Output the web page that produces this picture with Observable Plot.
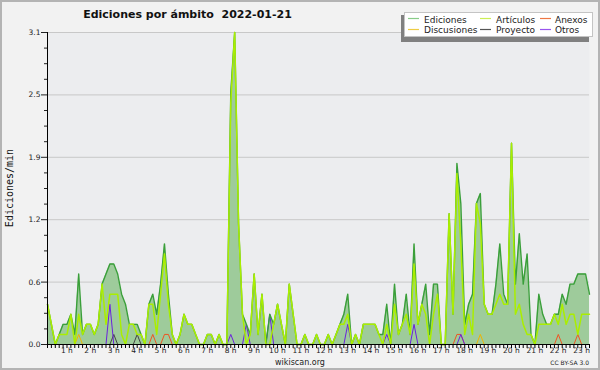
<!DOCTYPE html>
<html><head><meta charset="utf-8">
<script src="https://cdn.jsdelivr.net/npm/d3@7"></script>
<script src="https://cdn.jsdelivr.net/npm/@observablehq/plot@0.6"></script>
<style>
html,body{margin:0;padding:0;background:#f2f2f2;}
#chart{position:relative;width:600px;height:370px;background:#f2f2f2;overflow:hidden;font-family:"DejaVu Sans",sans-serif;}
#chart svg{position:absolute;left:0;top:0;}
#border{position:absolute;left:0;top:0;width:600px;height:370px;box-sizing:border-box;border:2px solid #b4b4b4;pointer-events:none;}
</style>
</head><body>
<div id="chart"></div>
<script>
// ---- data (10-minute steps from 00:00, edits per minute) ----
const ediciones = [
0.4,0.2,0,0.1,0.2,0.2,0.3,0.1,0.7,0.1,
0.2,0.2,0.1,0.2,0.6,0.7,0.8,0.8,0.7,0.5,
0.4,0.2,0.2,0.2,0.1,0,0.4,0.5,0.3,0.6,
1.0,0.5,0.1,0,0.1,0.3,0.2,0.2,0.1,0,
0,0.1,0.1,0,0.1,0,0,2.5,3.1,1.2,
0.3,0.2,0.1,0.7,0.1,0.5,0,0.3,0.2,0.4,
0.2,0,0.6,0.3,0,0,0.1,0,0,0.1,
0,0,0.1,0,0.1,0.2,0.3,0.5,0,0.1,
0,0.2,0.2,0.2,0.2,0.1,0.1,0.4,0,0.6,
0.1,0.2,0.5,0.1,1.0,0.2,0.4,0.6,0.1,0.6,
0.6,0,0,1.3,0.3,1.8,1.4,0.2,0.4,0.5,
1.4,1.5,0.4,0.3,0.3,0.6,1.0,0.5,0.4,2.0,
0.6,1.1,0.6,0.9,0.1,0,0.5,0.3,0.2,0.2,
0.3,0.3,0.5,0.4,0.6,0.6,0.7,0.7,0.7,0.5
];
const articulos = [
0.4,0.2,0,0.1,0.1,0.1,0.3,0,0.3,0.1,
0.2,0.2,0.1,0.2,0.6,0.2,0.5,0.5,0.5,0.1,
0,0.2,0.2,0.1,0.1,0,0.4,0.4,0.1,0.5,
0.9,0.4,0.1,0,0.1,0.3,0.2,0.2,0.1,0,
0,0.1,0.1,0,0.1,0,0,2.4,3.1,1.2,
0.3,0,0.1,0.7,0.1,0.5,0,0,0.2,0.4,
0.2,0,0.6,0.3,0,0,0.1,0,0,0.1,
0,0,0.1,0,0.1,0.2,0.2,0.3,0,0.1,
0,0.2,0.2,0.2,0.2,0.1,0,0.2,0,0.4,
0.1,0.2,0.3,0.1,0.8,0.2,0.4,0.3,0,0.3,
0.5,0,0,1.3,0.3,1.7,1.0,0.1,0.3,0.1,
1.4,1.2,0.4,0.3,0.3,0.4,0.5,0.4,0.4,2.0,
0.3,0.4,0.2,0.1,0.1,0,0.2,0.2,0.2,0.2,
0.3,0.2,0.4,0.2,0.3,0.3,0.1,0.3,0.3,0.3
];
const anexos = [
0,0,0,0,0,0,0,0,0,0,
0,0,0,0,0,0,0,0,0,0,
0,0,0,0,0,0,0,0.1,0,0,
0.1,0.1,0,0,0,0,0,0,0,0,
0,0,0,0,0,0,0,0,0,0,
0,0,0,0,0,0,0,0,0,0,
0,0,0,0,0,0,0,0,0,0,
0,0,0,0,0,0,0,0,0,0,
0,0,0,0,0,0,0,0,0,0,
0,0,0,0,0,0,0,0,0,0,
0,0,0,0,0,0.1,0.1,0,0,0,
0,0,0,0,0,0,0,0,0,0,
0,0,0,0,0,0,0,0,0,0,
0,0.1,0,0,0,0,0.1,0,0,0
];
const discusiones = [
0,0,0,0,0,0,0,0,0.1,0,
0,0,0,0,0,0,0,0,0,0,
0,0,0,0,0,0,0,0,0,0,
0,0,0,0,0,0,0,0,0,0,
0,0,0,0,0,0,0,0,0,0,
0,0,0,0,0,0,0,0,0,0,
0,0,0,0,0,0,0,0,0,0,
0,0,0,0,0,0,0,0,0,0,
0,0,0,0,0,0,0,0,0,0,
0,0,0,0,0,0,0,0,0,0,
0,0,0,0,0,0,0,0,0,0,
0,0.1,0,0,0,0,0,0,0,0,
0,0,0,0,0,0,0,0,0,0,
0,0,0,0,0,0,0,0,0,0
];
const proyecto = [
0,0,0,0,0,0,0,0,0,0,
0,0,0,0,0,0,0,0.1,0,0,
0,0,0,0.1,0,0,0,0,0,0,
0,0,0,0,0,0,0,0,0,0,
0,0,0,0,0,0,0,0,0,0,
0,0,0,0,0,0,0,0,0,0,
0,0,0,0,0,0,0,0,0,0,
0,0,0,0,0,0,0,0,0,0,
0,0,0,0,0,0,0,0,0,0,
0,0,0,0,0,0,0,0,0,0,
0,0,0,0,0,0,0,0,0,0,
0,0,0,0,0,0,0,0,0,0,
0,0,0,0,0,0,0,0,0,0,
0,0,0,0,0,0,0,0,0,0
];
const otros = [
0,0,0,0,0,0,0,0,0,0,
0,0,0,0,0,0,0.4,0,0,0,
0,0,0,0,0,0,0,0,0,0,
0,0,0,0,0,0,0,0,0,0,
0,0,0,0,0,0,0,0.1,0,0,
0,0.2,0,0,0,0,0,0.3,0,0,
0,0,0,0,0,0,0,0,0,0,
0,0,0,0,0,0,0,0.2,0,0,
0,0,0,0,0,0,0,0.1,0,0,
0,0,0,0,0.2,0,0,0,0,0,
0,0,0,0,0,0,0.1,0,0,0,
0,0,0,0,0,0,0,0,0,0,
0,0,0,0,0,0,0,0,0,0,
0,0,0,0,0,0,0,0,0,0
];
const seriesNames = ["Ediciones","Artículos","Anexos","Discusiones","Proyecto","Otros"];
const seriesColors = ["#3a9f3a","#aaee00","#ee5522","#f0b400","#444444","#6a22dd"];
const legendColors = ["#88cc88","#ccee55","#ee7744","#eecc44","#555555","#9955ee"];
const yTicks = [0, 0.62, 1.24, 1.86, 2.48, 3.1];
const hours = [1,2,3,4,5,6,7,8,9,10,11,12,13,14,15,16,17,18,19,20,21,22,23];
const hourLabels = hours.map(h => h + " h");
const titleText = "Ediciones por ámbito  2022-01-21";
const yLabel = "Ediciones/min";

// ---- build ----
const N = ediciones.length;
const rows = ediciones.map((v, i) => ({
  i, ed: v, art: articulos[i], anx: anexos[i], dis: discusiones[i], pro: proyecto[i], otr: otros[i]
}));
const yMinor = d3.range(1, 20).map(k => k * 3.1 / 20).filter(v => !yTicks.some(t => Math.abs(t - v) < 1e-6));
const xMinor = d3.range(N);
const hourTicks = hours.map(h => h * 6);

const plot = Plot.plot({
  width: 600, height: 370,
  marginLeft: 47, marginRight: 11, marginTop: 32, marginBottom: 26,
  style: {background: "transparent", fontFamily: "DejaVu Sans, sans-serif", color: "#000"},
  x: {domain: [0, N - 1]},
  y: {domain: [0, 3.1]},
  marks: [
    Plot.frame({fill: "#ecedef"}),
    Plot.gridY(yTicks.slice(1), {stroke: "#c8c8c8", strokeOpacity: 1}),
    Plot.areaY(rows, {x: "i", y: "ed", fill: "#9ecb9b"}),
    Plot.lineY(rows, {x: "i", y: "pro", stroke: seriesColors[4], strokeWidth: 1}),
    Plot.lineY(rows, {x: "i", y: "dis", stroke: seriesColors[3], strokeWidth: 1}),
    Plot.lineY(rows, {x: "i", y: "anx", stroke: seriesColors[2], strokeWidth: 1}),
    Plot.lineY(rows, {x: "i", y: "otr", stroke: seriesColors[5], strokeWidth: 1}),
    Plot.lineY(rows, {x: "i", y: "ed", stroke: seriesColors[0], strokeWidth: 1.4}),
    Plot.lineY(rows, {x: "i", y: "art", stroke: seriesColors[1], strokeWidth: 1.5}),
    Plot.axisY(yTicks, {tickSize: 6, tickPadding: 1, tickFormat: d3.format(".1f"), fontSize: 7.5, label: null, color: "#222"}),
    Plot.axisY(yMinor, {tickSize: 3, tickFormat: () => "", label: null, color: "#222"}),
    Plot.axisX(xMinor, {tickSize: 4, tickFormat: () => "", label: null, color: "#000"}),
    Plot.axisX(hourTicks, {tickSize: 0, tickPadding: 3, dx: -4, fontSize: 7.5, label: null, color: "#222",
      tickFormat: d => hourLabels[hourTicks.indexOf(d)]}),
    Plot.ruleX([0], {stroke: "#000"}),
    Plot.ruleY([0], {stroke: "#000"})
  ]
});
const chart = document.getElementById("chart");
chart.appendChild(plot);

// ---- overlay: title, legend, axis title, footer ----
const ov = d3.select(chart).append("svg").attr("width", 600).attr("height", 370)
  .style("position", "absolute").style("left", 0).style("top", 0)
  .attr("font-family", "DejaVu Sans, sans-serif");
ov.append("text").attr("x", 187.5).attr("y", 17.5).attr("text-anchor", "middle")
  .attr("font-weight", "bold").attr("font-size", 11).style("white-space", "pre").attr("fill", "#111").text(titleText);
ov.append("text").attr("transform", "translate(12.5,188) rotate(-90)").attr("text-anchor", "middle")
  .attr("font-family", "DejaVu Sans Mono, monospace").attr("font-size", 10).attr("fill", "#111").text(yLabel);
// legend
ov.append("rect").attr("x", 401).attr("y", 15).attr("width", 188).attr("height", 27).attr("fill", "#808080");
ov.append("rect").attr("x", 404.5).attr("y", 12.5).attr("width", 188).attr("height", 24).attr("fill", "#fff").attr("stroke", "#c4c4c4");
const colX = [408, 480, 540];
const textX = [424, 496, 555];
seriesNames.forEach((name, k) => {
  const col = k % 3, row = Math.floor(k / 3);
  const ly = row === 0 ? 18.5 : 29.5;
  const ty = row === 0 ? 22.5 : 33;
  ov.append("line").attr("x1", colX[col]).attr("x2", colX[col] + 11).attr("y1", ly).attr("y2", ly)
    .attr("stroke", legendColors[k]).attr("stroke-width", 1.2);
  ov.append("text").attr("x", textX[col]).attr("y", ty).attr("font-size", 9).attr("fill", "#222").text(name);
});
// footer
ov.append("text").attr("x", 300).attr("y", 365).attr("text-anchor", "middle").attr("font-size", 8).attr("fill", "#222").text("wikiscan.org");
ov.append("text").attr("x", 589).attr("y", 364.5).attr("text-anchor", "end").attr("font-size", 6).attr("fill", "#222").text("CC BY-SA 3.0");
const border = document.createElement("div");
border.id = "border";
chart.appendChild(border);
</script>
</body></html>
